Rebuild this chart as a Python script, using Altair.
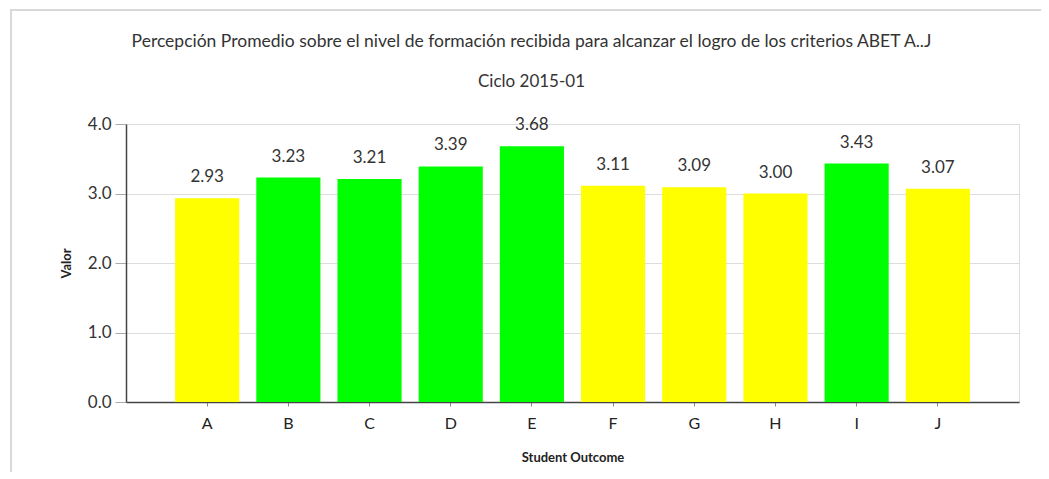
import altair as alt
import pandas as pd

outcomes = ["A", "B", "C", "D", "E", "F", "G", "H", "I", "J"]
values = [2.93, 3.23, 3.21, 3.39, 3.68, 3.11, 3.09, 3.00, 3.43, 3.07]
levels = ["bajo", "alto", "alto", "alto", "alto", "bajo", "bajo", "bajo", "alto", "bajo"]

df = pd.DataFrame({"outcome": outcomes, "valor": values, "nivel": levels})

FONT = "Lato"

x = alt.X("outcome:N", sort=outcomes, title="Student Outcome",
          scale=alt.Scale(paddingInner=0.21, paddingOuter=0.605),
          axis=alt.Axis(labelAngle=0, labelFontSize=16, labelColor="#222",
                        labelPadding=9, titleFontSize=13, titleFontWeight="bold",
                        titleColor="#222", titlePadding=20, tickSize=4,
                        tickColor="#888", domainColor="#444", domainWidth=1.5,
                        labelFont=FONT, titleFont=FONT))
y = alt.Y("valor:Q", title="Valor",
          scale=alt.Scale(domain=[0, 4]),
          axis=alt.Axis(values=[0, 1, 2, 3, 4], format=".1f", labelFontSize=17,
                        labelColor="#333", tickSize=11, tickColor="#aaa",
                        domainColor="#444", domainWidth=1.5, gridColor="#dddddd",
                        titleFontSize=13, titleFontWeight="bold", titleColor="#222",
                        titlePadding=14, labelPadding=4, labelFont=FONT, titleFont=FONT))

bars = alt.Chart(df).mark_bar().encode(
    x=x, y=y,
    color=alt.Color("nivel:N", scale=alt.Scale(domain=["bajo", "alto"],
                                               range=["#ffff00", "#00ff00"]),
                    legend=None),
)

text = alt.Chart(df).mark_text(baseline="bottom", dy=-12, fontSize=17,
                               color="#333", font=FONT).encode(
    x=alt.X("outcome:N", sort=outcomes),
    y="valor:Q",
    text=alt.Text("valor:Q", format=".2f"),
)

frame_top = alt.Chart(df).mark_rule(color="#d8d8d8", strokeWidth=2).encode(
    x=alt.value(-116), x2=alt.value(930), y=alt.value(-114))
frame_left = alt.Chart(df).mark_rule(color="#d8d8d8", strokeWidth=2).encode(
    x=alt.value(-115), y=alt.value(-114), y2=alt.value(380))

chart = (frame_top + frame_left + bars + text).properties(
    width=893, height=278,
    title=alt.TitleParams(
        "Percepción Promedio sobre el nivel de formación recibida para alcanzar el logro de los criterios ABET A..J",
        subtitle="Ciclo 2015-01",
        fontSize=17.5, subtitleFontSize=17, font=FONT, subtitleFont=FONT,
        fontWeight="normal", color="#333", subtitleColor="#333",
        anchor="middle", frame="group", dx=-41, offset=-81, subtitlePadding=24,
    ),
    autosize=alt.AutoSizeParams(type="none"),
    padding={"left": 118, "top": 116, "right": 22, "bottom": 70},
).configure_view(stroke=None).configure(background="white")

chart.save("out.html", embed_options={"renderer": "svg", "actions": False})
